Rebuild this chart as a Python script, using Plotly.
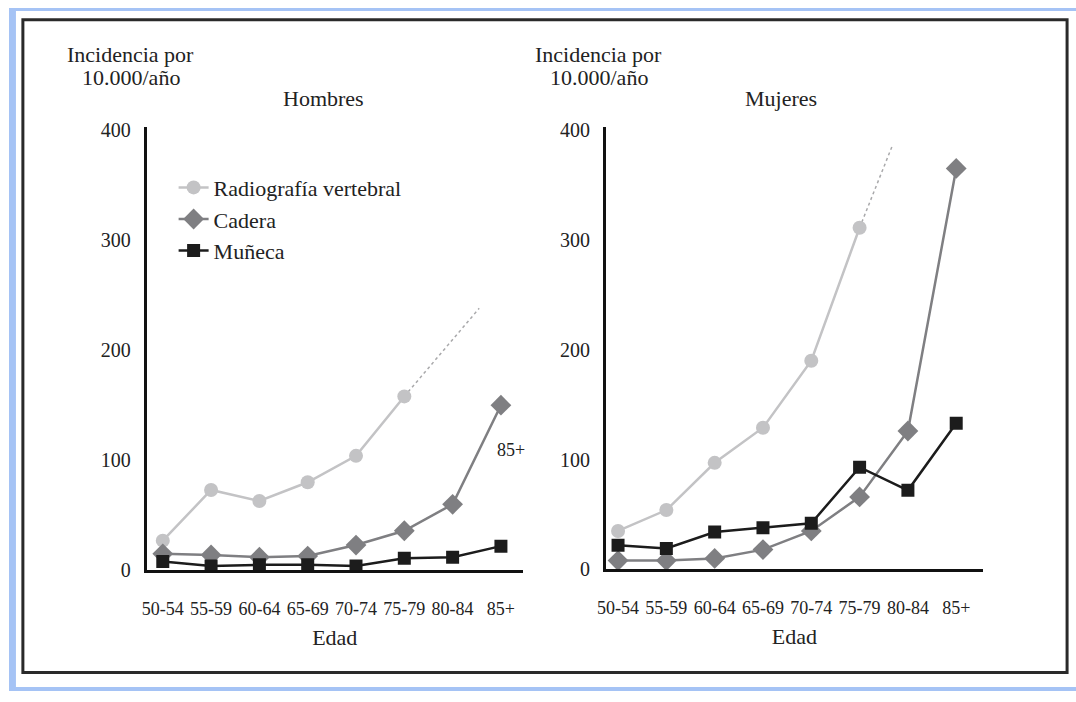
import plotly.graph_objects as go

# Grupos de edad
edades = ["50-54", "55-59", "60-64", "65-69", "70-74", "75-79", "80-84", "85+"]

# Incidencia por 10.000/año - Hombres
hombres_vertebral = [27, 73, 63, 80, 104, 158]
hombres_cadera = [15, 14, 12, 13, 23, 36, 60, 150]
hombres_muneca = [8, 4, 5, 5, 4, 11, 12, 22]
hombres_tendencia_x = [5, 6.55]
hombres_tendencia_y = [158, 238]

# Incidencia por 10.000/año - Mujeres
mujeres_vertebral = [35, 54, 97, 129, 190, 311]
mujeres_cadera = [8, 8, 10, 18, 35, 66, 126, 365]
mujeres_muneca = [22, 19, 34, 38, 42, 93, 72, 133]
mujeres_tendencia_x = [5, 5.68]
mujeres_tendencia_y = [311, 386]

W, H = 1076, 702
FONT = "'Liberation Serif', 'DejaVu Serif', serif"
TXT = "#222222"
C_VERT = "#c3c3c5"
C_CAD = "#7f7f82"
C_MUN = "#1c1c1c"
AZUL = "#a5c3f5"

def px(x):
    return x / W

def py(y):
    return 1 - y / H

idx = list(range(len(edades)))

fig = go.Figure()

def add_panel(xa, ya, vert, cad, mun, tx, ty, legend):
    fig.add_trace(go.Scatter(
        x=tx, y=ty, xaxis=xa, yaxis=ya, mode="lines",
        line=dict(color="#a9a9ab", width=1.5, dash="dot"),
        showlegend=False, hoverinfo="skip"))
    fig.add_trace(go.Scatter(
        x=idx[:len(vert)], y=vert, xaxis=xa, yaxis=ya, mode="lines+markers",
        name="Radiografía vertebral", legendgroup="vert",
        line=dict(color=C_VERT, width=2.5),
        marker=dict(symbol="circle", size=14, color=C_VERT),
        showlegend=legend))
    fig.add_trace(go.Scatter(
        x=idx, y=cad, xaxis=xa, yaxis=ya, mode="lines+markers",
        name="Cadera", legendgroup="cad",
        line=dict(color=C_CAD, width=2.5),
        marker=dict(symbol="diamond", size=16, color=C_CAD),
        showlegend=legend))
    fig.add_trace(go.Scatter(
        x=idx, y=mun, xaxis=xa, yaxis=ya, mode="lines+markers",
        name="Muñeca", legendgroup="mun",
        line=dict(color=C_MUN, width=2.5),
        marker=dict(symbol="square", size=13, color=C_MUN),
        showlegend=legend))

add_panel("x", "y", hombres_vertebral, hombres_cadera, hombres_muneca,
          hombres_tendencia_x, hombres_tendencia_y, True)
add_panel("x2", "y2", mujeres_vertebral, mujeres_cadera, mujeres_muneca,
          mujeres_tendencia_x, mujeres_tendencia_y, False)

xaxis_common = dict(
    tickmode="array", tickvals=idx, ticktext=edades,
    showgrid=False, zeroline=False, showline=True,
    linecolor="#111111", linewidth=3, ticks="",
    ticklabelstandoff=20,
    tickfont=dict(family=FONT, size=18, color=TXT),
    title=dict(text="Edad", font=dict(family=FONT, size=22, color=TXT), standoff=12),
    fixedrange=True,
)
yaxis_common = dict(
    range=[0, 403], tickmode="array", tickvals=[0, 100, 200, 300, 400],
    showgrid=False, zeroline=False, showline=True,
    linecolor="#111111", linewidth=3, ticks="",
    ticklabelstandoff=9,
    tickfont=dict(family=FONT, size=20, color=TXT),
    fixedrange=True,
)

fig.update_layout(
    width=W, height=H,
    margin=dict(l=0, r=0, t=0, b=0),
    paper_bgcolor="white", plot_bgcolor="rgba(0,0,0,0)",
    xaxis=dict(domain=[px(139), px(518)], range=[-0.33, 7.45], anchor="y", **xaxis_common),
    yaxis=dict(domain=[py(578), py(122)], anchor="x", **yaxis_common),
    xaxis2=dict(domain=[px(602), px(982)], range=[-0.25, 7.55], anchor="y2", **xaxis_common),
    yaxis2=dict(domain=[py(577), py(122)], anchor="x2", **yaxis_common),
    legend=dict(
        x=px(166), y=py(163), xanchor="left", yanchor="top",
        bgcolor="rgba(0,0,0,0)", borderwidth=0,
        font=dict(family=FONT, size=22, color=TXT),
        itemwidth=30, tracegroupgap=0,
    ),
    showlegend=True,
)

annotations = [
    dict(text="Incidencia por", x=px(123), y=py(48)),
    dict(text="10.000/año", x=px(123), y=py(71)),
    dict(text="Hombres", x=px(317), y=py(93)),
    dict(text="Incidencia por", x=px(594), y=py(48)),
    dict(text="10.000/año", x=px(595), y=py(71)),
    dict(text="Mujeres", x=px(779), y=py(93)),
]
for a in annotations:
    fig.add_annotation(xref="paper", yref="paper", xanchor="center", yanchor="middle",
                       showarrow=False, font=dict(family=FONT, size=22, color=TXT), **a)

fig.add_annotation(xref="x", yref="y", x=7.2, y=109, text="85+", showarrow=False,
                   font=dict(family=FONT, size=18, color=TXT))

# Franjas azules del borde exterior y recuadro negro
shapes = [
    dict(type="rect", xref="paper", yref="paper", x0=0, x1=px(7), y0=0, y1=1,
         fillcolor=AZUL, line=dict(width=0), layer="below"),
    dict(type="rect", xref="paper", yref="paper", x0=0, x1=1, y0=py(3), y1=1,
         fillcolor=AZUL, line=dict(width=0), layer="below"),
    dict(type="rect", xref="paper", yref="paper", x0=0, x1=1, y0=0, y1=py(698),
         fillcolor=AZUL, line=dict(width=0), layer="below"),
    dict(type="rect", xref="paper", yref="paper", x0=px(14), x1=px(1067), y0=py(683), y1=py(12),
         fillcolor="rgba(0,0,0,0)", line=dict(color="#2a2a2a", width=3), layer="below"),
]
fig.update_layout(shapes=shapes)

fig.write_html("out.html")
